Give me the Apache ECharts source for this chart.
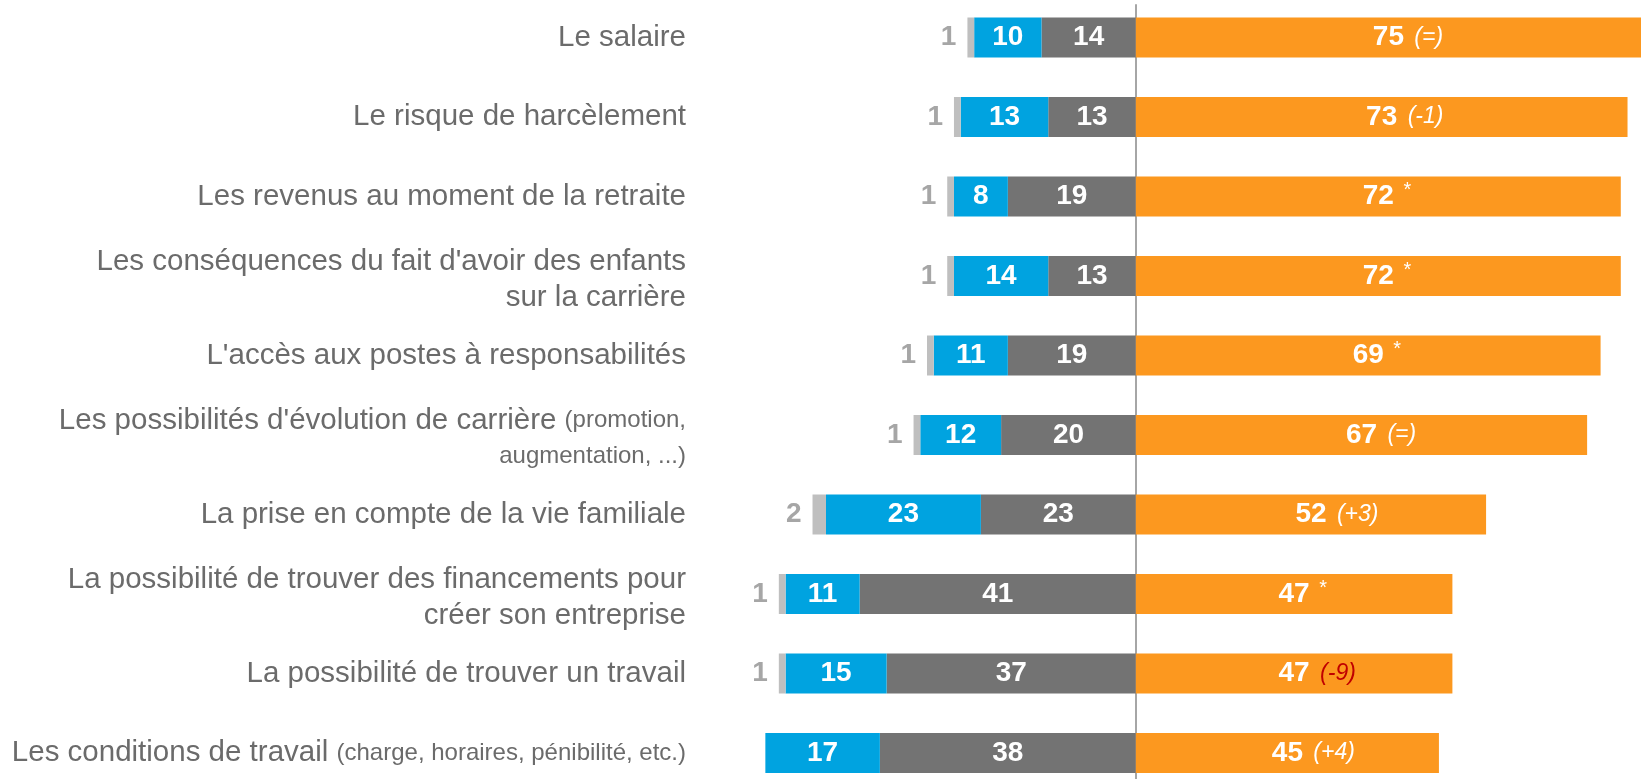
<!DOCTYPE html>
<html>
<head>
<meta charset="utf-8">
<script src="https://cdn.jsdelivr.net/npm/echarts@6/dist/echarts.min.js"></script>
<style>
html, body {margin: 0; padding: 0; background: #fff;}
#echarts {width: 1641px; height: 779px;}
</style>
</head>
<body>
<div id="echarts"></div>
<script>
var categories = [
    "Le salaire",
    "Le risque de harcèlement",
    "Les revenus au moment de la retraite",
    "Les conséquences du fait d'avoir des enfants\nsur la carrière",
    "L'accès aux postes à responsabilités",
    "Les possibilités d'évolution de carrière {s|(promotion,}\n{s|augmentation, ...)}",
    "La prise en compte de la vie familiale",
    "La possibilité de trouver des financements pour\ncréer son entreprise",
    "La possibilité de trouver un travail",
    "Les conditions de travail {s|(charge, horaires, pénibilité, etc.)}"
];
var nspValues = [1, 1, 1, 1, 1, 1, 2, 1, 1, 0];
var blueValues = [10, 13, 8, 14, 11, 12, 23, 11, 15, 17];
var greyValues = [14, 13, 19, 13, 19, 20, 23, 41, 37, 38];
var orangeValues = [75, 73, 72, 72, 69, 67, 52, 47, 47, 45];
var evolutions = ["(=)", "(-1)", "*", "*", "*", "(=)", "(+3)", "*", "(-9)", "(+4)"];

var xMin = -65;
var xMax = 75;
var gridLeft = 698;
var zeroX = gridLeft + (1641 - gridLeft) * (-xMin) / (xMax - xMin);

function neg(arr) {
    return arr.map(function (v) { return -v; });
}

/* style du petit texte après le chiffre */
function suffixStyle(suf) {
    if (suf === "*") return "star";
    if (suf === "(-9)") return "red";
    return "it";
}

/* les libellés sur deux lignes descendent un peu */
var catData = categories.map(function (c) {
    if (c.indexOf("\n") >= 0) return {value: c, textStyle: {padding: [7, 0, 0, 0]}};
    return c;
});

var valueLabel = {
    show: true,
    position: 'inside',
    color: '#fff',
    fontFamily: 'Liberation Sans',
    fontWeight: 'bold',
    fontSize: 28,
    formatter: function (p) { return Math.abs(p.value); }
};

var myChart = echarts.init(document.getElementById('echarts'));

var option = {
    animation: false,
    grid: [
        {left: gridLeft, right: 0, top: 37.5, bottom: 26, containLabel: false},
        {left: zeroX, right: 0, top: 5, bottom: 0, containLabel: false}
    ],
    xAxis: [
        {type: 'value', min: xMin, max: xMax, show: false},
        {gridIndex: 1, type: 'value', min: 0, max: 1, show: false}
    ],
    yAxis: [{
        type: 'category',
        inverse: true,
        boundaryGap: false,
        data: catData,
        axisLine: {show: false},
        axisTick: {show: false},
        splitLine: {show: false},
        axisLabel: {
            margin: 12,
            fontFamily: 'Liberation Sans',
            fontSize: 29.5,
            color: '#6b6b6b',
            lineHeight: 36,
            align: 'right',
            rich: {
                s: {fontFamily: 'Liberation Sans', fontSize: 24, color: '#6b6b6b', lineHeight: 36}
            }
        }
    }, {
        gridIndex: 1,
        type: 'value',
        min: 0,
        max: 1,
        axisLine: {show: true, onZero: false, lineStyle: {color: '#a6a6a6', width: 2}},
        axisTick: {show: false},
        axisLabel: {show: false},
        splitLine: {show: false}
    }],
    series: [{
        name: 'grey',
        type: 'bar',
        stack: 'a',
        barWidth: 40,
        clip: false,
        data: neg(greyValues),
        itemStyle: {color: '#737373'},
        label: valueLabel
    }, {
        name: 'blue',
        type: 'bar',
        stack: 'a',
        clip: false,
        data: neg(blueValues),
        itemStyle: {color: '#00a3e0'},
        label: valueLabel
    }, {
        name: 'nsp',
        type: 'bar',
        stack: 'a',
        clip: false,
        data: neg(nspValues),
        itemStyle: {color: '#bfbfbf'},
        label: {
            show: true,
            position: 'left',
            distance: 11,
            color: '#a6a6a6',
            fontFamily: 'Liberation Sans',
            fontWeight: 'bold',
            fontSize: 28,
            formatter: function (p) { return p.value === 0 ? '' : Math.abs(p.value); }
        }
    }, {
        name: 'orange',
        type: 'bar',
        stack: 'a',
        clip: false,
        data: orangeValues,
        itemStyle: {color: '#fc981f'},
        label: {
            show: true,
            position: 'inside',
            fontFamily: 'Liberation Sans',
            formatter: function (p) {
                var suf = evolutions[p.dataIndex];
                var st = suffixStyle(suf);
                // le même texte en transparent à gauche pour centrer le chiffre
                return '{pad' + st + '|' + suf + ' }{n|' + p.value + '}{' + st + '| ' + suf + '}';
            },
            rich: {
                n: {color: '#fff', fontFamily: 'Liberation Sans', fontWeight: 'bold', fontSize: 28},
                it: {color: '#fff', fontFamily: 'Liberation Sans', fontStyle: 'italic', fontSize: 23, padding: [0, 0, 0, 4]},
                red: {color: '#c00000', fontFamily: 'Liberation Sans', fontStyle: 'italic', fontSize: 23, padding: [0, 0, 0, 4]},
                star: {color: '#fff', fontFamily: 'Liberation Sans', fontSize: 20, padding: [0, 0, 12, 4]},
                padit: {color: 'transparent', fontFamily: 'Liberation Sans', fontStyle: 'italic', fontSize: 23, padding: [0, 4, 0, 0]},
                padred: {color: 'transparent', fontFamily: 'Liberation Sans', fontStyle: 'italic', fontSize: 23, padding: [0, 4, 0, 0]},
                padstar: {color: 'transparent', fontFamily: 'Liberation Sans', fontSize: 20, padding: [0, 4, 0, 0]}
            }
        }
    }]
};

myChart.setOption(option);
</script>
</body>
</html>
